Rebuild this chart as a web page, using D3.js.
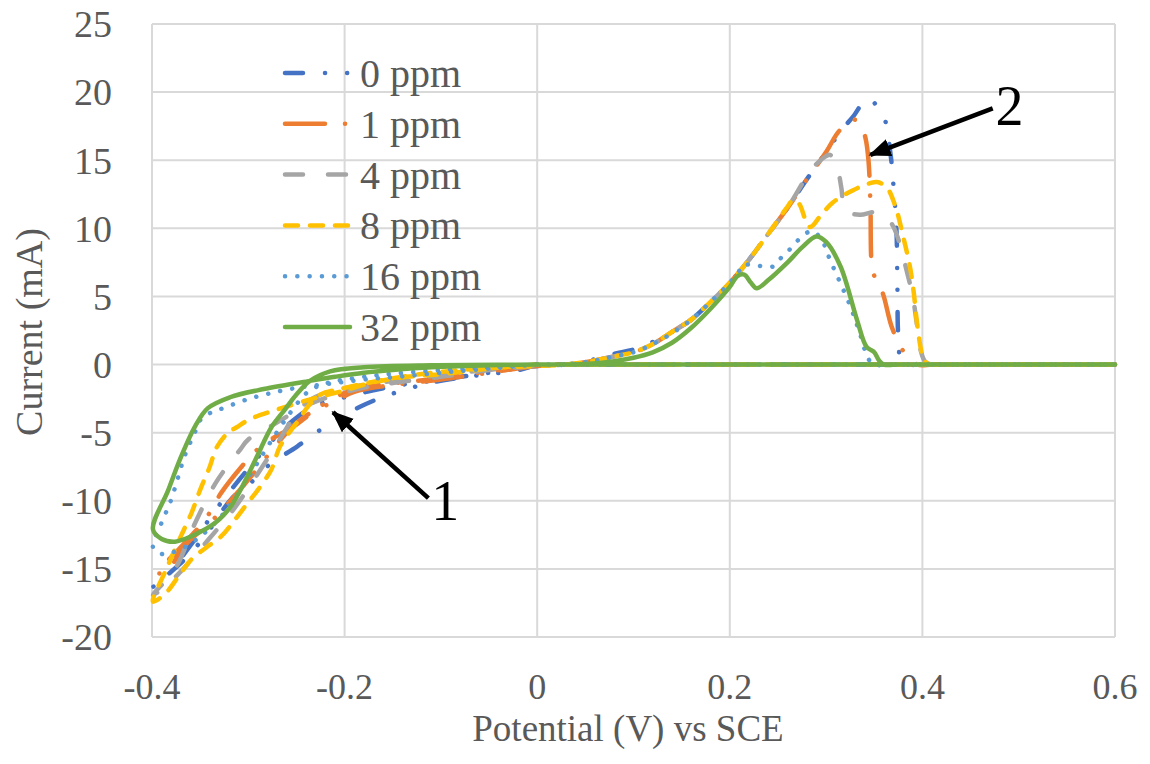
<!DOCTYPE html>
<html>
<head>
<meta charset="utf-8">
<script src="https://cdn.jsdelivr.net/npm/d3@7"></script>
<style>
  body { margin: 0; background: #fff; }
  svg text { font-family: "Liberation Serif", "Times New Roman", serif; }
</style>
</head>
<body>
<svg id="chart" width="1150" height="764"></svg>
<script>
// ---- data: [potential (V), current (mA)] in scan order ----
var ppm0 = [
  [0, 0], [-0.025, -0.5], [-0.052, -0.7], [-0.108, -1.3], [-0.153, -2.2], [-0.184, -3.1],
  [-0.215, -4.3], [-0.249, -6.0], [-0.279, -7.4], [-0.293, -8.4], [-0.318, -9.9],
  [-0.345, -12.6], [-0.366, -14.3], [-0.385, -15.5], [-0.399, -16.3],
  [-0.39, -16.0], [-0.373, -14.5], [-0.35, -12.3], [-0.33, -10.3], [-0.31, -8.5],
  [-0.29, -6.8], [-0.27, -5.2], [-0.25, -3.9], [-0.23, -3.0], [-0.2, -2.4], [-0.15, -1.6],
  [-0.1, -1.1], [-0.05, -0.6], [0, -0.1],
  [0.03, 0], [0.06, 0.4], [0.08, 0.8], [0.1, 1.1], [0.115, 1.5], [0.14, 2.4], [0.16, 3.3],
  [0.18, 4.6], [0.2, 6.0], [0.22, 7.7], [0.24, 9.6], [0.26, 11.5], [0.28, 13.6], [0.3, 15.6],
  [0.315, 17.1], [0.328, 18.2], [0.343, 19.5], [0.355, 18.8], [0.361, 18.0], [0.367, 15.4],
  [0.37, 13.1], [0.373, 10.0], [0.374, 6.0], [0.375, 2.0], [0.378, 0.3], [0.385, 0],
  [0.4, 0], [0.42, 0], [0.6, 0], [0.02, 0]
];
var ppm1 = [
  [0, 0], [-0.05, -0.5], [-0.1, -1.0], [-0.139, -1.3], [-0.18, -1.6], [-0.215, -2.6],
  [-0.256, -4.7], [-0.272, -5.3], [-0.29, -6.2], [-0.307, -7.5], [-0.328, -9.4],
  [-0.345, -11.4], [-0.37, -13.4], [-0.394, -15.3],
  [-0.385, -15.2], [-0.366, -13.3], [-0.334, -11.2], [-0.31, -9.3], [-0.29, -7.6],
  [-0.27, -5.8], [-0.25, -4.3], [-0.232, -3.4], [-0.213, -2.8], [-0.19, -2.0],
  [-0.15, -1.5], [-0.1, -1.1], [-0.05, -0.6], [0, -0.1],
  [0.03, 0], [0.06, 0.3], [0.08, 0.6], [0.1, 0.9], [0.12, 1.5], [0.14, 2.4], [0.16, 3.3],
  [0.18, 4.6], [0.2, 6.0], [0.22, 7.7], [0.24, 9.6], [0.26, 11.5], [0.28, 13.6], [0.3, 15.6],
  [0.313, 17.1], [0.328, 18.0], [0.336, 17.6], [0.341, 16.6], [0.344, 15.0], [0.346, 11.9],
  [0.348, 7.0], [0.352, 6.2], [0.359, 5.2], [0.368, 2.8], [0.38, 1.0], [0.387, 0.5],
  [0.395, 0], [0.41, 0], [0.43, 0], [0.6, 0], [0.02, 0]
];
var ppm4 = [
  [0, 0], [-0.05, -0.4], [-0.1, -0.9], [-0.145, -1.3], [-0.187, -1.8], [-0.236, -2.9],
  [-0.276, -4.5], [-0.3, -5.5], [-0.308, -6.2], [-0.334, -8.7], [-0.355, -11.6],
  [-0.376, -15.0], [-0.399, -16.9],
  [-0.39, -16.5], [-0.373, -15.4], [-0.342, -12.9], [-0.314, -10.5], [-0.29, -8.0],
  [-0.27, -5.8], [-0.253, -3.9], [-0.236, -2.6], [-0.21, -1.9], [-0.15, -1.2],
  [-0.08, -0.6], [0, -0.1],
  [0.03, 0], [0.06, 0.3], [0.08, 0.6], [0.1, 0.9], [0.12, 1.5], [0.14, 2.4], [0.16, 3.3],
  [0.18, 4.6], [0.2, 6.0], [0.22, 7.7], [0.24, 9.6], [0.26, 11.5], [0.278, 13.6],
  [0.287, 14.5], [0.3, 15.3], [0.304, 15.4], [0.31, 14.8], [0.313, 14.1], [0.316, 12.9],
  [0.32, 11.3], [0.335, 11.0], [0.351, 11.2], [0.362, 10.9], [0.37, 10.1], [0.375, 9.2],
  [0.384, 6.8], [0.39, 5.0], [0.394, 3.1], [0.398, 1.1], [0.403, 0.2], [0.41, 0],
  [0.425, 0], [0.45, 0], [0.6, 0], [0.02, 0]
];
var ppm8 = [
  [0, 0], [-0.05, -0.3], [-0.1, -0.7], [-0.135, -0.9], [-0.17, -1.3], [-0.205, -2.0],
  [-0.233, -2.5], [-0.27, -3.3], [-0.298, -4.0], [-0.312, -4.6], [-0.321, -5.0],
  [-0.333, -6.1], [-0.34, -7.5], [-0.35, -9.2], [-0.359, -10.9], [-0.37, -12.6],
  [-0.385, -15.0], [-0.399, -17.4],
  [-0.386, -16.8], [-0.372, -15.5], [-0.359, -14.3], [-0.343, -13.4], [-0.328, -12.6],
  [-0.314, -11.4], [-0.3, -10.1], [-0.29, -9.2], [-0.276, -7.7], [-0.267, -6.0],
  [-0.249, -4.2], [-0.236, -2.9], [-0.225, -2.2], [-0.205, -1.8], [-0.15, -1.0],
  [-0.08, -0.4], [0, -0.1],
  [0.03, 0], [0.06, 0.3], [0.08, 0.6], [0.1, 0.9], [0.12, 1.5], [0.14, 2.4], [0.16, 3.3],
  [0.18, 4.6], [0.2, 6.0], [0.22, 7.7], [0.24, 9.6], [0.26, 11.6], [0.266, 12.1],
  [0.272, 11.8], [0.283, 10.1], [0.295, 11.0], [0.307, 11.9], [0.328, 12.8], [0.345, 13.3],
  [0.353, 13.4], [0.363, 13.0], [0.372, 11.6], [0.38, 9.4], [0.387, 7.2], [0.391, 5.3],
  [0.394, 3.3], [0.398, 1.3], [0.401, 0.4], [0.406, 0.05], [0.41, 0], [0.425, 0],
  [0.45, 0], [0.6, 0], [0.02, 0]
];
var ppm16 = [
  [0, 0], [-0.05, -0.3], [-0.1, -0.6], [-0.145, -0.9], [-0.18, -1.1], [-0.215, -1.4],
  [-0.249, -1.7], [-0.277, -2.1], [-0.303, -2.6], [-0.326, -3.2], [-0.338, -3.5],
  [-0.349, -4.0], [-0.355, -4.9], [-0.366, -6.7], [-0.373, -8.3], [-0.381, -10.1],
  [-0.39, -11.6], [-0.399, -13.4],
  [-0.39, -13.9], [-0.375, -13.7], [-0.355, -12.9], [-0.33, -11.3], [-0.31, -9.4],
  [-0.293, -7.5], [-0.277, -5.7], [-0.256, -3.5], [-0.238, -2.0], [-0.22, -1.4],
  [-0.18, -0.9], [-0.12, -0.5], [-0.05, -0.2], [0, 0],
  [0.03, 0], [0.06, 0.3], [0.08, 0.6], [0.1, 0.9], [0.12, 1.5], [0.14, 2.3], [0.16, 3.3],
  [0.18, 4.6], [0.2, 6.0], [0.21, 6.9], [0.213, 7.3], [0.225, 7.3], [0.245, 7.2],
  [0.254, 7.9], [0.263, 8.5], [0.272, 9.2], [0.285, 9.8], [0.295, 9.2], [0.304, 7.7],
  [0.325, 4.3], [0.335, 2.3], [0.344, 0.4], [0.35, 0], [0.365, 0], [0.39, 0],
  [0.6, 0], [0.02, 0]
];
var ppm32 = [
  [0, 0], [-0.05, -0.05], [-0.11, -0.2], [-0.15, -0.4], [-0.18, -0.6], [-0.21, -0.9],
  [-0.236, -1.2], [-0.284, -1.8], [-0.319, -2.4], [-0.342, -3.2], [-0.355, -4.5],
  [-0.37, -6.8], [-0.383, -9.2], [-0.399, -12.1],
  [-0.39, -12.8], [-0.376, -13.0], [-0.359, -12.6], [-0.334, -11.6], [-0.318, -10.4],
  [-0.303, -8.5], [-0.29, -6.6], [-0.276, -4.6], [-0.262, -3.3], [-0.25, -2.2],
  [-0.236, -1.2], [-0.215, -0.5], [-0.18, -0.2], [-0.11, -0.05], [0, 0],
  [0.05, 0.05], [0.08, 0.25], [0.1, 0.5], [0.12, 0.9], [0.14, 1.6], [0.16, 2.7],
  [0.18, 4.1], [0.2, 5.7], [0.208, 6.5], [0.215, 6.6], [0.222, 6.0], [0.228, 5.6],
  [0.24, 6.2], [0.26, 7.5], [0.275, 8.6], [0.29, 9.4], [0.3, 9.0], [0.315, 7.2],
  [0.332, 3.3], [0.342, 1.3], [0.35, 0.9], [0.355, 0.3], [0.36, 0], [0.375, 0],
  [0.4, 0], [0.6, 0], [0.02, 0]
];

var seriesNames = ['0 ppm', '1 ppm', '4 ppm', '8 ppm', '16 ppm', '32 ppm'];
var seriesData = [ppm0, ppm1, ppm4, ppm8, ppm16, ppm32];

var xTicks = [-0.4, -0.2, 0, 0.2, 0.4, 0.6];
var yTicks = [25, 20, 15, 10, 5, 0, -5, -10, -15, -20];

// annotations: label, arrow tail [V, mA], arrow tip [V, mA], label anchor [V, mA]
var notes = [
  { label: '1', from: [-0.113, -9.8], to: [-0.212, -3.5], at: [-0.11, -11.4] },
  { label: '2', from: [0.473, 18.8], to: [0.346, 15.4], at: [0.476, 17.6] }
];

// ---- styles ----
var colors = ['#4472C4', '#ED7D31', '#A5A5A5', '#FFC000', '#5B9BD5', '#70AD47'];
var dashes = ['18,22,0.1,22,0.1,22', '40,20,0.1,20', '18,25', '13,12', '0.1,12.2', null];
var lineW = 4.5;

var svg = d3.select('#chart');
var margin = { left: 152, right: 35, top: 24, bottom: 127 };
var W = 1150, H = 764;

var x = d3.scaleLinear().domain([-0.4, 0.6]).range([margin.left, W - margin.right]);
var y = d3.scaleLinear().domain([-20, 25]).range([H - margin.bottom, margin.top]);

// gridlines
var grid = svg.append('g');
grid.selectAll('.hg').data(yTicks).enter().append('line')
  .attr('x1', x(-0.4)).attr('x2', x(0.6))
  .attr('y1', function(d) { return y(d); }).attr('y2', function(d) { return y(d); })
  .attr('stroke', '#d9d9d9').attr('stroke-width', 2);
grid.selectAll('.vg').data(xTicks).enter().append('line')
  .attr('y1', y(25)).attr('y2', y(-20))
  .attr('x1', function(d) { return x(d); }).attr('x2', function(d) { return x(d); })
  .attr('stroke', '#d9d9d9').attr('stroke-width', 2);

// tick labels
svg.append('g').selectAll('text').data(yTicks).enter().append('text')
  .attr('x', 112).attr('y', function(d) { return y(d); })
  .attr('dy', '0.35em').attr('text-anchor', 'end')
  .attr('font-size', 38).attr('fill', '#595959')
  .text(function(d) { return d; });
svg.append('g').selectAll('text').data(xTicks).enter().append('text')
  .attr('x', function(d) { return x(d); }).attr('y', 699)
  .attr('text-anchor', 'middle')
  .attr('font-size', 36).attr('fill', '#595959')
  .text(function(d) { return d; });

// axis titles
svg.append('text').attr('x', 628).attr('y', 741).attr('text-anchor', 'middle')
  .attr('font-size', 37).attr('fill', '#595959').text('Potential (V) vs SCE');
svg.append('text').attr('transform', 'translate(42,332) rotate(-90)')
  .attr('text-anchor', 'middle').attr('font-size', 38).attr('fill', '#595959')
  .text('Current (mA)');

// series
var line = d3.line()
  .x(function(d) { return x(d[0]); })
  .y(function(d) { return y(d[1]); })
  .curve(d3.curveCatmullRom.alpha(0.5));

svg.append('g').selectAll('path').data(seriesData).enter().append('path')
  .attr('d', line)
  .attr('fill', 'none')
  .attr('stroke', function(d, i) { return colors[i]; })
  .attr('stroke-width', lineW)
  .attr('stroke-linecap', 'round')
  .attr('stroke-linejoin', 'round')
  .attr('stroke-dasharray', function(d, i) { return dashes[i]; });

// legend
var legend = svg.append('g').selectAll('g').data(seriesNames).enter().append('g')
  .attr('transform', function(d, i) { return 'translate(283,' + (73 + i * 50.8) + ')'; });
legend.append('line')
  .attr('x1', 2).attr('x2', 67).attr('y1', 0).attr('y2', 0)
  .attr('stroke', function(d, i) { return colors[i]; })
  .attr('stroke-width', lineW)
  .attr('stroke-linecap', 'round')
  .attr('stroke-dasharray', function(d, i) { return dashes[i]; });
legend.append('text')
  .attr('x', 77).attr('dy', '0.35em')
  .attr('font-size', 40).attr('fill', '#595959')
  .text(function(d) { return d; });

// annotation arrows
svg.append('defs').append('marker')
  .attr('id', 'head').attr('markerUnits', 'userSpaceOnUse')
  .attr('markerWidth', 24).attr('markerHeight', 20)
  .attr('refX', 20).attr('refY', 9).attr('orient', 'auto')
  .append('path').attr('d', 'M0,0 L22,9 L0,18 Z').attr('fill', '#000');

var ann = svg.append('g').selectAll('g').data(notes).enter().append('g');
ann.append('line')
  .attr('x1', function(d) { return x(d.from[0]); })
  .attr('y1', function(d) { return y(d.from[1]); })
  .attr('x2', function(d) { return x(d.to[0]); })
  .attr('y2', function(d) { return y(d.to[1]); })
  .attr('stroke', '#000').attr('stroke-width', 4.5)
  .attr('marker-end', 'url(#head)');
ann.append('text')
  .attr('x', function(d) { return x(d.at[0]); })
  .attr('y', function(d) { return y(d.at[1]); })
  .attr('font-size', 56).attr('fill', '#000')
  .text(function(d) { return d.label; });
</script>
</body>
</html>
